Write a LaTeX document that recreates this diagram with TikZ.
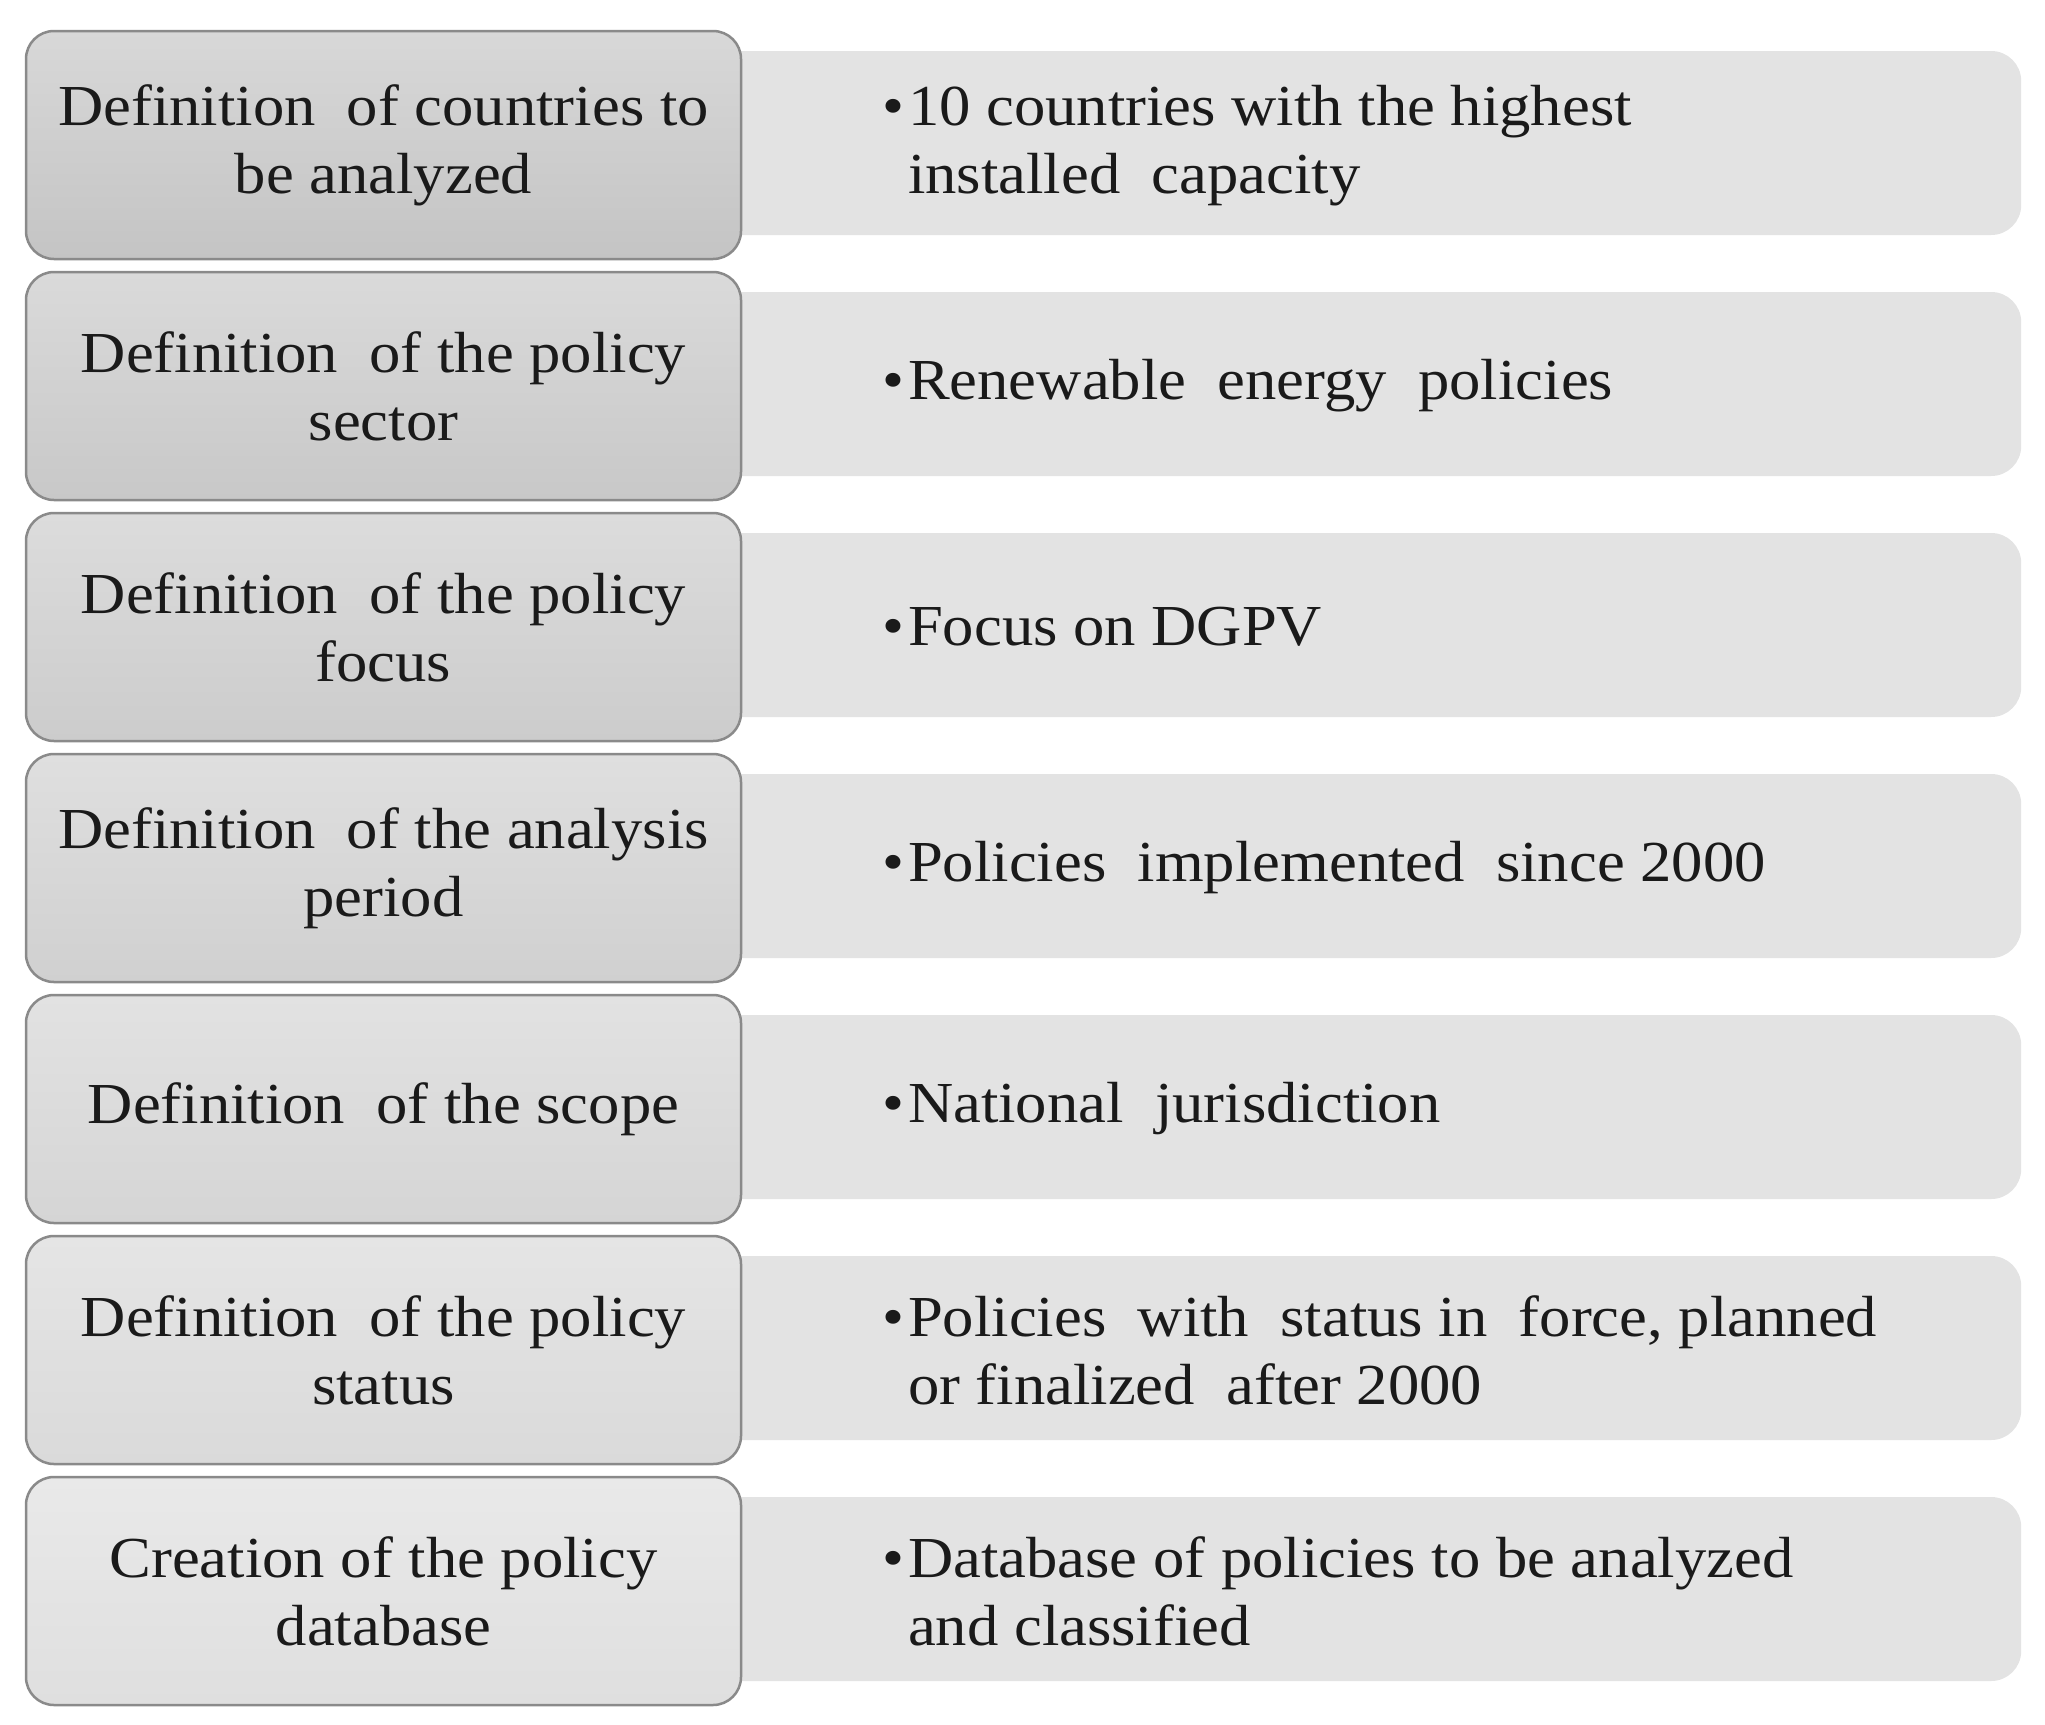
\documentclass[tikz,border=0pt]{standalone}
\usepackage{fontspec}
\setmainfont{Liberation Serif}[FakeStretch=1.08]
\definecolor{rightfill}{HTML}{E3E3E3}
\definecolor{boxborder}{HTML}{8A8A8A}
\definecolor{txt}{HTML}{1A1A1A}
\definecolor{ta}{HTML}{D8D8D8}\definecolor{ba}{HTML}{C4C4C4}
\definecolor{tb}{HTML}{DADADA}\definecolor{bb}{HTML}{C8C8C8}
\definecolor{tc}{HTML}{DCDCDC}\definecolor{bc}{HTML}{CCCCCC}
\definecolor{td}{HTML}{DFDFDF}\definecolor{bd}{HTML}{D0D0D0}
\definecolor{te}{HTML}{E2E2E2}\definecolor{be}{HTML}{D5D5D5}
\definecolor{tf}{HTML}{E5E5E5}\definecolor{bf}{HTML}{DADADA}
\definecolor{tg}{HTML}{E9E9E9}\definecolor{bg}{HTML}{DFDFDF}
\newcommand{\bigfont}{\fontsize{58}{68}\selectfont}
\newcommand{\blt}{\textbullet\hspace{4pt}}
\newcommand{\bltsp}{\phantom{\textbullet}\hspace{4pt}}
\begin{document}
\begin{tikzpicture}[x=1pt,y=-1pt,
  stepbox/.style={rounded corners=28pt, draw=boxborder, line width=2.5pt,
    minimum width=715pt, minimum height=228pt, inner sep=0pt,
    align=center, font=\bigfont, text=txt},
  detailbox/.style={fill=rightfill, rounded corners=30pt, draw=none,
    minimum width=1321pt, minimum height=184pt, inner sep=0pt, anchor=west},
  detailtext/.style={align=left, anchor=west, font=\bigfont, text=txt, inner sep=0pt}]
\useasboundingbox (0,0) rectangle (2045,1724);
% right boxes
\foreach \i in {0,...,6}{
  \node[detailbox] (d\i) at (700,143+241*\i) {};
}
% left boxes
\node[stepbox, top color=ta, bottom color=ba] (s0) at (383.5,145)
  {Definition\ \ of countries to\\be analyzed};
\node[stepbox, top color=tb, bottom color=bb] (s1) at (383.5,386)
  {Definition\ \ of the policy\\sector};
\node[stepbox, top color=tc, bottom color=bc] (s2) at (383.5,627)
  {Definition\ \ of the policy\\focus};
\node[stepbox, top color=td, bottom color=bd] (s3) at (383.5,868)
  {Definition\ \ of the analysis\\period};
\node[stepbox, top color=te, bottom color=be] (s4) at (383.5,1109)
  {Definition\ \ of the scope};
\node[stepbox, top color=tf, bottom color=bf] (s5) at (383.5,1350)
  {Definition\ \ of the policy\\status};
\node[stepbox, top color=tg, bottom color=bg] (s6) at (383.5,1591)
  {Creation of the policy\\database};
% right texts
\node[detailtext] (r0) at (882,146) {\blt 10 countries with the highest\\\bltsp installed\ \ capacity};
\node[detailtext] (r1) at (882,386) {\blt Renewable\ \ energy\ \ policies};
\node[detailtext] (r2) at (882,627) {\blt Focus on DGPV};
\node[detailtext] (r3) at (882,868) {\blt Policies\ \ implemented\ \ since 2000};
\node[detailtext] (r4) at (882,1109) {\blt National\ \ jurisdiction};
\node[detailtext] (r5) at (882,1350) {\blt Policies\ \ with\ \ status in\ \ force, planned\\\bltsp or finalized\ \ after 2000};
\node[detailtext] (r6) at (882,1591) {\blt Database of policies to be analyzed\\\bltsp and classified};
\end{tikzpicture}
\end{document}
